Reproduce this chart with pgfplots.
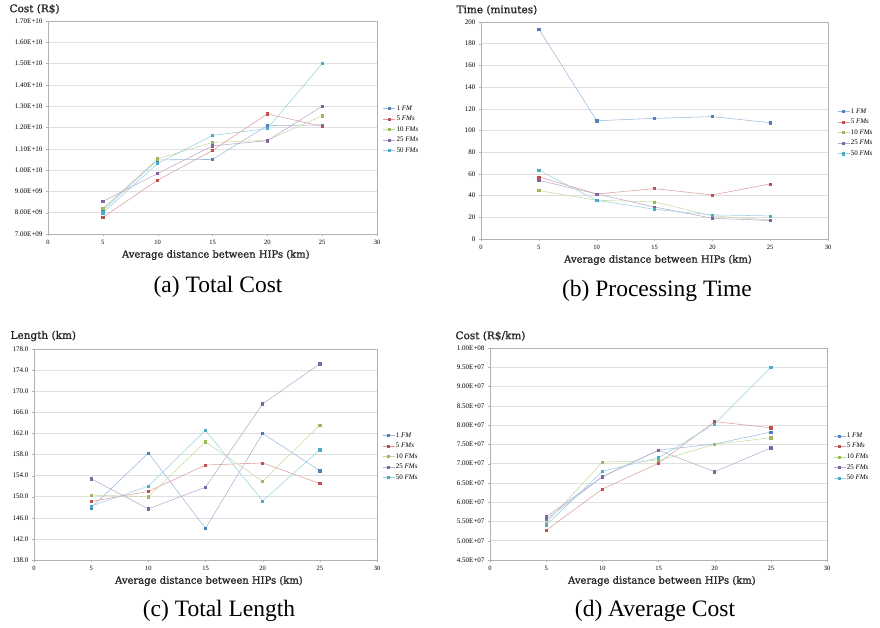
\documentclass[border=0pt]{standalone}
\usepackage{fontspec}
\setmainfont{Liberation Serif}
\newfontfamily\dejaserif[FakeBold=1.2]{DejaVu Serif}
\usepackage{pgfplots}
\pgfplotsset{compat=1.18}
\definecolor{c1}{RGB}{79,129,189}
\definecolor{c2}{RGB}{192,80,77}
\definecolor{c3}{RGB}{155,187,89}
\definecolor{c4}{RGB}{128,100,162}
\definecolor{c5}{RGB}{75,172,198}
\pgfplotsset{
  hipaxis/.style={
    scale only axis, clip=false,
    xmin=0, xmax=30, xtick={0,5,...,30},
    xtick pos=lower, ytick pos=left,
    axis line style={draw=black!30},
    tick style={draw=black!30},
    major tick length=2pt,
    tick align=outside,
    ymajorgrids, grid style={draw=black!12, line width=0.5pt},
    xticklabel style={font=\fontsize{6.5}{6.5}\selectfont, yshift=-1pt},
    yticklabel style={font=\fontsize{7}{7}\selectfont},
    /pgf/number format/assume math mode=true,
    legend style={draw=none, fill=none, font=\fontsize{7}{7}\selectfont, anchor=west, inner sep=0pt, row sep=2.4pt, nodes={inner sep=1pt}},
    legend cell align=left,
    legend image code/.code={\draw[##1, mark repeat=2, mark phase=2] plot coordinates {(0pt,0pt) (6pt,0pt) (12pt,0pt)};},
    every axis plot/.append style={line width=0.55pt, mark=square*, mark size=1.1pt},
  },
  s1/.style={color=c1!55!white, mark options={fill=c1, draw=c1}},
  s2/.style={color=c2!55!white, mark options={fill=c2, draw=c2}},
  s3/.style={color=c3!55!white, mark options={fill=c3, draw=c3}},
  s4/.style={color=c4!55!white, mark options={fill=c4, draw=c4}},
  s5/.style={color=c5!55!white, mark options={fill=c5, draw=c5}},
}
\newcommand{\xlab}{\node[font=\dejaserif\fontsize{10}{10}\selectfont, text=black!85] at (rel axis cs:0.51,0) [yshift=-21pt] {Average distance between HIPs (km)};}
\begin{document}
\begin{tikzpicture}
\useasboundingbox (0,0) rectangle (880pt,627pt);
% (a) Total Cost
\begin{axis}[hipaxis, at={(48pt,393pt)}, anchor=south west, width=329pt, height=213pt,
  ymin=7, ymax=17, ytick={7,8,...,17},
  yticklabels={7.00E+09,8.00E+09,9.00E+09,1.00E+10,1.10E+10,1.20E+10,1.30E+10,1.40E+10,1.50E+10,1.60E+10,1.70E+10},
  legend style={at={(1.018,0.49)}}]
\addplot[s1] coordinates {(5,8.12)(10,10.48)(15,10.50)(20,12.09)(25,12.12)};
\addplot[s2] coordinates {(5,7.78)(10,9.53)(15,10.92)(20,12.64)(25,12.05)};
\addplot[s3] coordinates {(5,8.20)(10,10.53)(15,11.30)(20,11.40)(25,12.55)};
\addplot[s4] coordinates {(5,8.53)(10,9.84)(15,11.14)(20,11.38)(25,13.00)};
\addplot[s5] coordinates {(5,8.00)(10,10.31)(15,11.63)(20,11.95)(25,15.00)};
\legend{1 \textit{FM}, 5 \textit{FMs}, 10 \textit{FMs}, 25 \textit{FMs}, 50 \textit{FMs}}
\node[anchor=west, font=\dejaserif\fontsize{10.5}{10.5}\selectfont, text=black!85] at (rel axis cs:0,1) [xshift=-42pt, yshift=12pt] {Cost (R\$)};
\xlab
\end{axis}
% (b) Processing Time
\begin{axis}[hipaxis, at={(481pt,388pt)}, anchor=south west, width=347pt, height=217pt,
  ymin=0, ymax=200, ytick={0,20,...,200},
  legend style={at={(1.026,0.49)}}]
\addplot[s1] coordinates {(5,193.5)(10,109.0)(15,111.2)(20,112.8)(25,107.2)};
\addplot[s2] coordinates {(5,57.2)(10,41.5)(15,46.4)(20,40.6)(25,50.7)};
\addplot[s3] coordinates {(5,44.6)(10,35.7)(15,34.2)(20,21.3)(25,17.6)};
\addplot[s4] coordinates {(5,54.1)(10,41.5)(15,29.5)(20,19.1)(25,17.0)};
\addplot[s5] coordinates {(5,63.3)(10,35.7)(15,27.4)(20,22.2)(25,21.3)};
\legend{1 \textit{FM}, 5 \textit{FMs}, 10 \textit{FMs}, 25 \textit{FMs}, 50 \textit{FMs}}
\node[anchor=west, font=\dejaserif\fontsize{10.5}{10.5}\selectfont, text=black!85] at (rel axis cs:0,1) [xshift=-28pt, yshift=12pt] {Time (minutes)};
\xlab
\end{axis}
% (c) Total Length
\begin{axis}[hipaxis, at={(34pt,67pt)}, anchor=south west, width=343pt, height=211pt,
  ymin=138, ymax=178, ytick={138,142,...,178},
  yticklabel={\pgfmathprintnumber[fixed, fixed zerofill, precision=1]{\tick}},
  legend style={at={(1.015,0.49)}}]
\addplot[s1] coordinates {(5,147.9)(10,158.3)(15,144.0)(20,162.0)(25,154.9)};
\addplot[s2] coordinates {(5,149.1)(10,151.0)(15,156.0)(20,156.4)(25,152.5)};
\addplot[s3] coordinates {(5,150.3)(10,150.0)(15,160.4)(20,152.9)(25,163.6)};
\addplot[s4] coordinates {(5,153.4)(10,147.7)(15,151.8)(20,167.6)(25,175.2)};
\addplot[s5] coordinates {(5,148.2)(10,152.0)(15,162.6)(20,149.2)(25,158.9)};
\legend{1 \textit{FM}, 5 \textit{FMs}, 10 \textit{FMs}, 25 \textit{FMs}, 50 \textit{FMs}}
\node[anchor=west, font=\dejaserif\fontsize{10.5}{10.5}\selectfont, text=black!85] at (rel axis cs:0,1) [xshift=-27pt, yshift=13pt] {Length (km)};
\xlab
\end{axis}
% (d) Average Cost
\begin{axis}[hipaxis, at={(490pt,67pt)}, anchor=south west, width=337pt, height=212pt,
  ymin=4.5, ymax=10, ytick={4.5,5,...,10},
  yticklabels={4.50E+07,5.00E+07,5.50E+07,6.00E+07,6.50E+07,7.00E+07,7.50E+07,8.00E+07,8.50E+07,9.00E+07,9.50E+07,1.00E+08},
  legend style={at={(1.018,0.486)}}]
\addplot[s1] coordinates {(5,5.55)(10,6.66)(15,7.35)(20,7.51)(25,7.82)};
\addplot[s2] coordinates {(5,5.27)(10,6.34)(15,7.01)(20,8.09)(25,7.93)};
\addplot[s3] coordinates {(5,5.46)(10,7.04)(15,7.08)(20,7.50)(25,7.67)};
\addplot[s4] coordinates {(5,5.62)(10,6.66)(15,7.35)(20,6.79)(25,7.41)};
\addplot[s5] coordinates {(5,5.40)(10,6.80)(15,7.15)(20,8.03)(25,9.50)};
\legend{1 \textit{FM}, 5 \textit{FMs}, 10 \textit{FMs}, 25 \textit{FMs}, 50 \textit{FMs}}
\node[anchor=west, font=\dejaserif\fontsize{10.5}{10.5}\selectfont, text=black!85] at (rel axis cs:0,1) [xshift=-38pt, yshift=12pt] {Cost (R\$/km)};
\xlab
\end{axis}
% captions
\node[font=\fontsize{23.5}{23.5}\selectfont] at (218pt,340pt) {(a) Total Cost};
\node[font=\fontsize{23.5}{23.5}\selectfont] at (657pt,336pt) {(b) Processing Time};
\node[font=\fontsize{23.5}{23.5}\selectfont] at (219pt,16pt) {(c) Total Length};
\node[font=\fontsize{23.5}{23.5}\selectfont] at (655pt,16pt) {(d) Average Cost};
\end{tikzpicture}
\end{document}
